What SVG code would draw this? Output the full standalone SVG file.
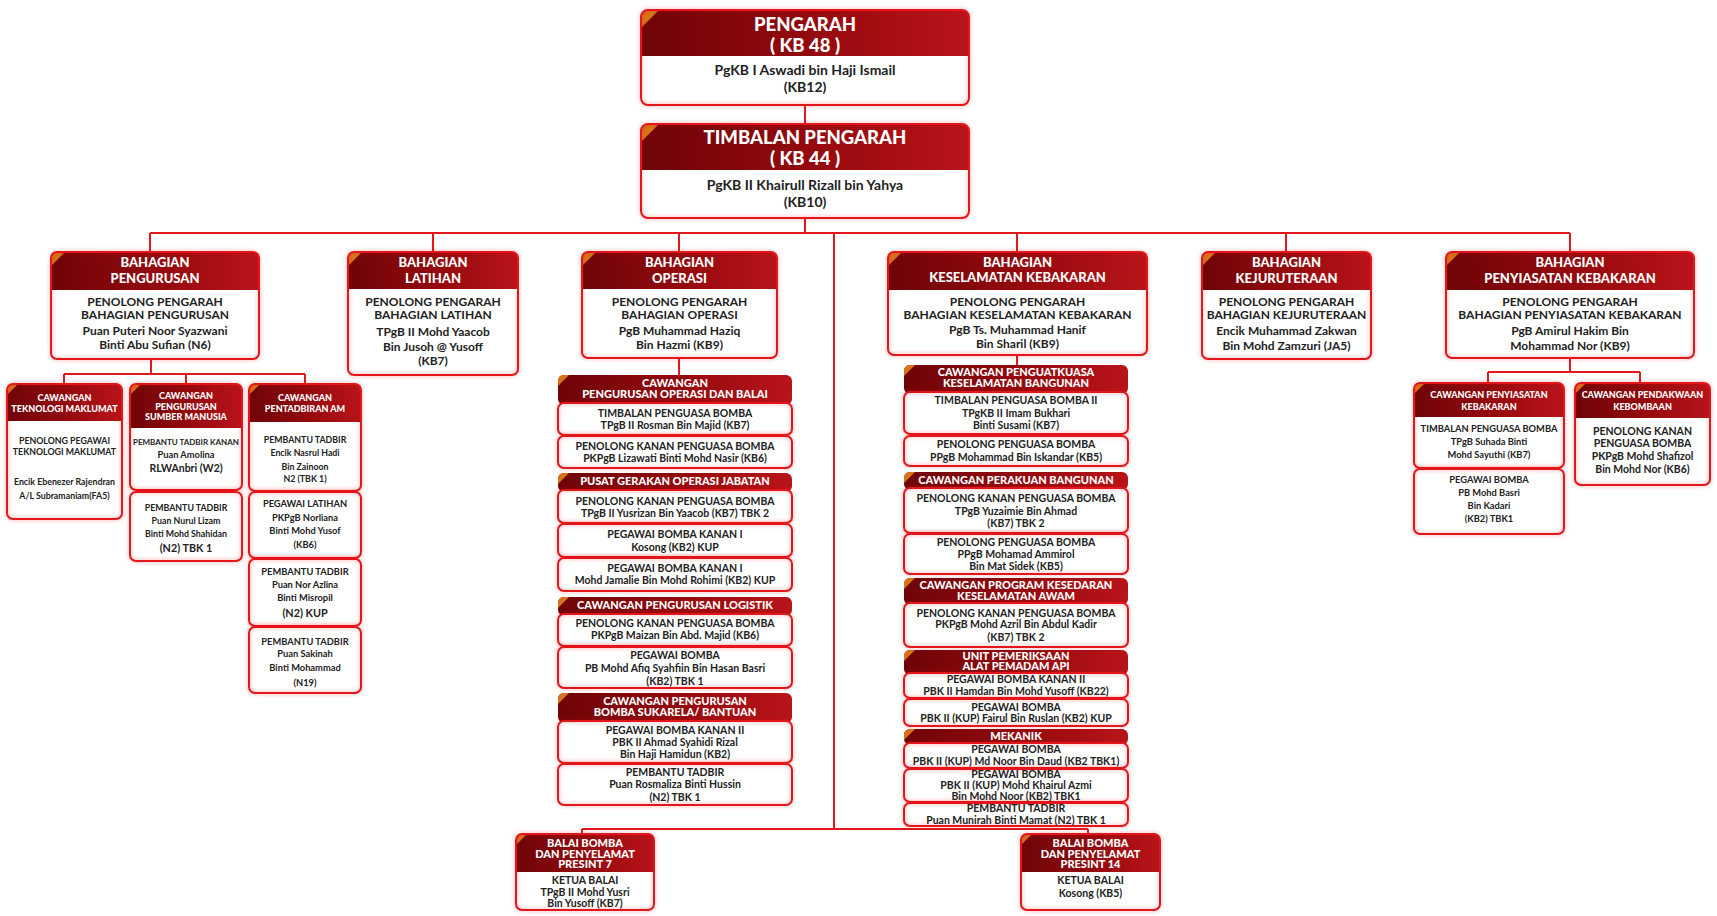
<svg xmlns="http://www.w3.org/2000/svg" width="1717" height="916" viewBox="0 0 1717 916">
<defs>
<linearGradient id="hg" x1="0" y1="0" x2="1" y2="0">
<stop offset="0" stop-color="#6e0407"/><stop offset="0.55" stop-color="#970a0e"/><stop offset="1" stop-color="#b8141a"/>
</linearGradient>
<filter id="gl" x="-10%" y="-10%" width="120%" height="120%">
<feDropShadow dx="0" dy="0" stdDeviation="2" flood-color="#e3181c" flood-opacity="0.4"/>
</filter>
<style>
.wf{fill:#fff}
.ol{fill:none;stroke:#e3181c;stroke-width:2;filter:url(#gl)}
.hdr{fill:url(#hg)}
.tri{fill:#d8731c}
.cn{fill:none;stroke:#e3181c;stroke-width:2}
text{font-family:Lato,"Noto Sans","Liberation Sans",sans-serif;text-anchor:middle;font-weight:700}
.h1{font-size:18.5px;font-weight:900;fill:#fff}
.b1{font-size:14px;fill:#222}
.h2{font-size:13px;font-weight:900;fill:#fff}
.b2{font-size:12px;fill:#222}
.h3{font-size:11px;font-weight:900;fill:#fff}
.b3{font-size:10.5px;fill:#222}
.h4{font-size:9px;font-weight:900;fill:#fff}
.b4{font-size:8.8px;fill:#222}
.b9{font-size:9.3px;fill:#222}
.b8{font-size:8px;fill:#222}
.bL{font-size:10.8px;fill:#222}
</style>
</defs>
<rect width="1717" height="916" fill="#fff"/>

<g id="connectors">
<path class="cn" d="M805,105V124M805,218V233M150,233H1570M150,233V252M433,233V252M679,233V252M1017,233V252M1286,233V252M1570,233V252M834,233V829M582,829H1088M582,829V834M1088,829V834"/>
<path class="cn" d="M151,359V374M64,374H305M64,374V384M186,374V384M305,374V384"/>
<path class="cn" d="M679,358V375M1017,355V365"/>
<path class="cn" d="M1570,358V372M1488,372H1640M1488,372V383M1640,372V383"/>
</g>

<g id="pengarah">
<rect class="wf" x="641" y="10" width="328" height="95" rx="7"/>
<path class="hdr" d="M641,56V17Q641,10 648,10H962Q969,10 969,17V56Z"/>
<path class="tri" d="M641,28V17Q641,10 648,10H659Z"/>
<rect class="ol" x="641" y="10" width="328" height="95" rx="7"/>
<text class="h1" x="805" y="31">PENGARAH</text>
<text class="h1" x="805" y="52">( KB 48 )</text>
<text class="b1" x="805" y="75">PgKB I Aswadi bin Haji Ismail</text>
<text class="b1" x="805" y="92">(KB12)</text>
</g>

<g id="timbalan">
<rect class="wf" x="641" y="124" width="328" height="94" rx="7"/>
<path class="hdr" d="M641,170V131Q641,124 648,124H962Q969,124 969,131V170Z"/>
<path class="tri" d="M641,142V131Q641,124 648,124H659Z"/>
<rect class="ol" x="641" y="124" width="328" height="94" rx="7"/>
<text class="h1" x="805" y="144">TIMBALAN PENGARAH</text>
<text class="h1" x="805" y="165">( KB 44 )</text>
<text class="b1" x="805" y="190">PgKB II Khairull Rizall bin Yahya</text>
<text class="b1" x="805" y="207">(KB10)</text>
</g>

<g id="pengurusan">
<rect class="wf" x="51" y="252" width="208" height="107" rx="6"/>
<path class="hdr" d="M51,290V258Q51,252 57,252H253Q259,252 259,258V290Z"/>
<path class="tri" d="M51,266V258Q51,252 57,252H65Z"/>
<rect class="ol" x="51" y="252" width="208" height="107" rx="6"/>
<text class="h2" x="155" y="266.5">BAHAGIAN</text>
<text class="h2" x="155" y="282.5">PENGURUSAN</text>
<text class="b2" x="155" y="306">PENOLONG PENGARAH</text>
<text class="b2" x="155" y="319">BAHAGIAN PENGURUSAN</text>
<text class="b2" x="155" y="335">Puan Puteri Noor Syazwani</text>
<text class="b2" x="155" y="349">Binti Abu Sufian (N6)</text>
</g>

<g id="cw-tm">
<rect class="wf" x="7" y="384" width="115" height="135" rx="6"/>
<path class="hdr" d="M7,421V390Q7,384 13,384H116Q122,384 122,390V421Z"/>
<path class="tri" d="M7,395V390Q7,384 13,384H18Z"/>
<rect class="ol" x="7" y="384" width="115" height="135" rx="6"/>
<text class="h4" x="64.5" y="400.5">CAWANGAN</text>
<text class="h4" x="64.5" y="411.5">TEKNOLOGI MAKLUMAT</text>
<text class="b4" x="64.5" y="444">PENOLONG PEGAWAI</text>
<text class="b4" x="64.5" y="455">TEKNOLOGI MAKLUMAT</text>
<text class="b4" x="64.5" y="485">Encik Ebenezer Rajendran</text>
<text class="b4" x="64.5" y="499">A/L Subramaniam(FA5)</text>
</g>

<g id="cw-psm">
<rect class="wf" x="130" y="384" width="112" height="106" rx="6"/>
<path class="hdr" d="M130,428V390Q130,384 136,384H236Q242,384 242,390V428Z"/>
<path class="tri" d="M130,395V390Q130,384 136,384H141Z"/>
<rect class="ol" x="130" y="384" width="112" height="106" rx="6"/>
<text class="h4" x="186" y="398.5">CAWANGAN</text>
<text class="h4" x="186" y="409.5">PENGURUSAN</text>
<text class="h4" x="186" y="419.5">SUMBER MANUSIA</text>
<text class="b8" x="186" y="445">PEMBANTU TADBIR KANAN</text>
<text class="b9" x="186" y="458">Puan Amolina</text>
<text class="b3" x="186" y="472">RLWAnbri (W2)</text>
</g>
<g id="psm-2">
<rect class="wf" x="130" y="492" width="112" height="69" rx="6"/>
<rect class="ol" x="130" y="492" width="112" height="69" rx="6"/>
<text class="b4" x="186" y="511">PEMBANTU TADBIR</text>
<text class="b4" x="186" y="524">Puan Nurul Lizam</text>
<text class="b4" x="186" y="537">Binti Mohd Shahidan</text>
<text class="bL" x="186" y="551.5">(N2) TBK 1</text>
</g>

<g id="cw-pam">
<rect class="wf" x="249" y="384" width="112" height="107" rx="6"/>
<path class="hdr" d="M249,422V390Q249,384 255,384H355Q361,384 361,390V422Z"/>
<path class="tri" d="M249,395V390Q249,384 255,384H260Z"/>
<rect class="ol" x="249" y="384" width="112" height="107" rx="6"/>
<text class="h4" x="305" y="400.5">CAWANGAN</text>
<text class="h4" x="305" y="411.5">PENTADBIRAN AM</text>
<text class="b4" x="305" y="443">PEMBANTU TADBIR</text>
<text class="b4" x="305" y="456">Encik Nasrul Hadi</text>
<text class="b4" x="305" y="470">Bin Zainoon</text>
<text class="b4" x="305" y="482">N2 (TBK 1)</text>
</g>
<g id="pam-2">
<rect class="wf" x="249" y="492" width="112" height="66" rx="6"/>
<rect class="ol" x="249" y="492" width="112" height="66" rx="6"/>
<text class="b9" x="305" y="507">PEGAWAI LATIHAN</text>
<text class="b9" x="305" y="521">PKPgB Norliana</text>
<text class="b9" x="305" y="534">Binti Mohd Yusof</text>
<text class="b9" x="305" y="547.5">(KB6)</text>
</g>
<g id="pam-3">
<rect class="wf" x="249" y="559" width="112" height="67" rx="6"/>
<rect class="ol" x="249" y="559" width="112" height="67" rx="6"/>
<text class="b9" x="305" y="574.5">PEMBANTU TADBIR</text>
<text class="b9" x="305" y="588">Puan Nor Azlina</text>
<text class="b9" x="305" y="601">Binti Misropil</text>
<text class="bL" x="305" y="616.5">(N2) KUP</text>
</g>
<g id="pam-4">
<rect class="wf" x="249" y="627" width="112" height="66" rx="6"/>
<rect class="ol" x="249" y="627" width="112" height="66" rx="6"/>
<text class="b9" x="305" y="644.5">PEMBANTU TADBIR</text>
<text class="b9" x="305" y="657">Puan Sakinah</text>
<text class="b9" x="305" y="671">Binti Mohammad</text>
<text class="b9" x="305" y="685.5">(N19)</text>
</g>

<g id="latihan">
<rect class="wf" x="348" y="252" width="170" height="123" rx="6"/>
<path class="hdr" d="M348,289V258Q348,252 354,252H512Q518,252 518,258V289Z"/>
<path class="tri" d="M348,266V258Q348,252 354,252H362Z"/>
<rect class="ol" x="348" y="252" width="170" height="123" rx="6"/>
<text class="h2" x="433" y="266.5">BAHAGIAN</text>
<text class="h2" x="433" y="282.5">LATIHAN</text>
<text class="b2" x="433" y="306">PENOLONG PENGARAH</text>
<text class="b2" x="433" y="319">BAHAGIAN LATIHAN</text>
<text class="b2" x="433" y="336">TPgB II Mohd Yaacob</text>
<text class="b2" x="433" y="351">Bin Jusoh @ Yusoff</text>
<text class="b2" x="433" y="365">(KB7)</text>
</g>

<g id="operasi">
<rect class="wf" x="582" y="252" width="195" height="106" rx="6"/>
<path class="hdr" d="M582,289V258Q582,252 588,252H771Q777,252 777,258V289Z"/>
<path class="tri" d="M582,266V258Q582,252 588,252H596Z"/>
<rect class="ol" x="582" y="252" width="195" height="106" rx="6"/>
<text class="h2" x="679.5" y="266.5">BAHAGIAN</text>
<text class="h2" x="679.5" y="282.5">OPERASI</text>
<text class="b2" x="679.5" y="306">PENOLONG PENGARAH</text>
<text class="b2" x="679.5" y="319">BAHAGIAN OPERASI</text>
<text class="b2" x="679.5" y="335">PgB Muhammad Haziq</text>
<text class="b2" x="679.5" y="349">Bin Hazmi (KB9)</text>
</g>

<g id="op-balai">
<rect class="hdr" x="558" y="375" width="234" height="30" rx="6"/>
<path class="tri" d="M558,386V381Q558,375 564,375H569Z"/>
<text class="h3" x="675" y="387">CAWANGAN</text>
<text class="h3" x="675" y="398">PENGURUSAN OPERASI DAN BALAI</text>
<rect class="wf" x="558" y="403" width="234" height="32" rx="6"/>
<rect class="ol" x="558" y="403" width="234" height="32" rx="6"/>
<text class="b3" x="675" y="416.5">TIMBALAN PENGUASA BOMBA</text>
<text class="b3" x="675" y="428.5">TPgB II Rosman Bin Majid (KB7)</text>
<rect class="wf" x="558" y="436" width="234" height="32" rx="6"/>
<rect class="ol" x="558" y="436" width="234" height="32" rx="6"/>
<text class="b3" x="675" y="449.5">PENOLONG KANAN PENGUASA BOMBA</text>
<text class="b3" x="675" y="461.5">PKPgB Lizawati Binti Mohd Nasir (KB6)</text>
</g>

<g id="op-pgoj">
<rect class="hdr" x="558" y="473" width="234" height="19" rx="6"/>
<path class="tri" d="M558,484V479Q558,473 564,473H569Z"/>
<text class="h3" x="675" y="485">PUSAT GERAKAN OPERASI JABATAN</text>
<rect class="wf" x="558" y="490" width="234" height="33" rx="6"/>
<rect class="ol" x="558" y="490" width="234" height="33" rx="6"/>
<text class="b3" x="675" y="504.5">PENOLONG KANAN PENGUASA BOMBA</text>
<text class="b3" x="675" y="516.5">TPgB II Yusrizan Bin Yaacob (KB7) TBK 2</text>
<rect class="wf" x="558" y="524" width="234" height="33" rx="6"/>
<rect class="ol" x="558" y="524" width="234" height="33" rx="6"/>
<text class="b3" x="675" y="537.5">PEGAWAI BOMBA KANAN I</text>
<text class="b3" x="675" y="550.5">Kosong (KB2) KUP</text>
<rect class="wf" x="558" y="558" width="234" height="33" rx="6"/>
<rect class="ol" x="558" y="558" width="234" height="33" rx="6"/>
<text class="b3" x="675" y="571.5">PEGAWAI BOMBA KANAN I</text>
<text class="b3" x="675" y="583.5">Mohd Jamalie Bin Mohd Rohimi (KB2) KUP</text>
</g>

<g id="op-logistik">
<rect class="hdr" x="558" y="597" width="234" height="19" rx="6"/>
<path class="tri" d="M558,608V603Q558,597 564,597H569Z"/>
<text class="h3" x="675" y="609">CAWANGAN PENGURUSAN LOGISTIK</text>
<rect class="wf" x="558" y="614" width="234" height="32" rx="6"/>
<rect class="ol" x="558" y="614" width="234" height="32" rx="6"/>
<text class="b3" x="675" y="626.5">PENOLONG KANAN PENGUASA BOMBA</text>
<text class="b3" x="675" y="638.5">PKPgB Maizan Bin Abd. Majid (KB6)</text>
<rect class="wf" x="558" y="647" width="234" height="41" rx="6"/>
<rect class="ol" x="558" y="647" width="234" height="41" rx="6"/>
<text class="b3" x="675" y="658.5">PEGAWAI BOMBA</text>
<text class="b3" x="675" y="671.5">PB Mohd Afiq Syahfiin Bin Hasan Basri</text>
<text class="b3" x="675" y="684.5">(KB2) TBK 1</text>
</g>

<g id="op-sukarela">
<rect class="hdr" x="558" y="693" width="234" height="30" rx="6"/>
<path class="tri" d="M558,704V699Q558,693 564,693H569Z"/>
<text class="h3" x="675" y="705">CAWANGAN PENGURUSAN</text>
<text class="h3" x="675" y="716">BOMBA SUKARELA/ BANTUAN</text>
<rect class="wf" x="558" y="721" width="234" height="42" rx="6"/>
<rect class="ol" x="558" y="721" width="234" height="42" rx="6"/>
<text class="b3" x="675" y="733.5">PEGAWAI BOMBA KANAN II</text>
<text class="b3" x="675" y="745.5">PBK II Ahmad Syahidi Rizal</text>
<text class="b3" x="675" y="757.5">Bin Haji Hamidun (KB2)</text>
<rect class="wf" x="558" y="764" width="234" height="41" rx="6"/>
<rect class="ol" x="558" y="764" width="234" height="41" rx="6"/>
<text class="b3" x="675" y="775.5">PEMBANTU TADBIR</text>
<text class="b3" x="675" y="787.5">Puan Rosmaliza Binti Hussin</text>
<text class="b3" x="675" y="800.5">(N2) TBK 1</text>
</g>

<g id="keselamatan">
<rect class="wf" x="888" y="252" width="259" height="103" rx="6"/>
<path class="hdr" d="M888,290V258Q888,252 894,252H1141Q1147,252 1147,258V290Z"/>
<path class="tri" d="M888,266V258Q888,252 894,252H902Z"/>
<rect class="ol" x="888" y="252" width="259" height="103" rx="6"/>
<text class="h2" x="1017.5" y="266.5">BAHAGIAN</text>
<text class="h2" x="1017.5" y="281.5">KESELAMATAN KEBAKARAN</text>
<text class="b2" x="1017.5" y="306">PENOLONG PENGARAH</text>
<text class="b2" x="1017.5" y="319">BAHAGIAN KESELAMATAN KEBAKARAN</text>
<text class="b2" x="1017.5" y="334">PgB Ts. Muhammad Hanif</text>
<text class="b2" x="1017.5" y="348">Bin Sharil (KB9)</text>
</g>

<g id="kes-penguatkuasa">
<rect class="hdr" x="904" y="365" width="224" height="29" rx="6"/>
<path class="tri" d="M904,376V371Q904,365 910,365H915Z"/>
<text class="h3" x="1016" y="376">CAWANGAN PENGUATKUASA</text>
<text class="h3" x="1016" y="387">KESELAMATAN BANGUNAN</text>
<rect class="wf" x="904" y="392" width="224" height="42" rx="6"/>
<rect class="ol" x="904" y="392" width="224" height="42" rx="6"/>
<text class="b3" x="1016" y="403.5">TIMBALAN PENGUASA BOMBA II</text>
<text class="b3" x="1016" y="416.5">TPgKB II Imam Bukhari</text>
<text class="b3" x="1016" y="428.5">Binti Susami (KB7)</text>
<rect class="wf" x="904" y="436" width="224" height="30" rx="6"/>
<rect class="ol" x="904" y="436" width="224" height="30" rx="6"/>
<text class="b3" x="1016" y="447.5">PENOLONG PENGUASA BOMBA</text>
<text class="b3" x="1016" y="460.5">PPgB Mohammad Bin Iskandar (KB5)</text>
</g>

<g id="kes-perakuan">
<rect class="hdr" x="904" y="472" width="224" height="18" rx="6"/>
<path class="tri" d="M904,483V478Q904,472 910,472H915Z"/>
<text class="h3" x="1016" y="483.5">CAWANGAN PERAKUAN BANGUNAN</text>
<rect class="wf" x="904" y="488" width="224" height="45" rx="6"/>
<rect class="ol" x="904" y="488" width="224" height="45" rx="6"/>
<text class="b3" x="1016" y="501.5">PENOLONG KANAN PENGUASA BOMBA</text>
<text class="b3" x="1016" y="514.5">TPgB Yuzaimie Bin Ahmad</text>
<text class="b3" x="1016" y="526.5">(KB7) TBK 2</text>
<rect class="wf" x="904" y="534" width="224" height="40" rx="6"/>
<rect class="ol" x="904" y="534" width="224" height="40" rx="6"/>
<text class="b3" x="1016" y="545.5">PENOLONG PENGUASA BOMBA</text>
<text class="b3" x="1016" y="557.5">PPgB Mohamad Ammirol</text>
<text class="b3" x="1016" y="569.5">Bin Mat Sidek (KB5)</text>
</g>

<g id="kes-kesedaran">
<rect class="hdr" x="904" y="578" width="224" height="27" rx="6"/>
<path class="tri" d="M904,589V584Q904,578 910,578H915Z"/>
<text class="h3" x="1016" y="589">CAWANGAN PROGRAM KESEDARAN</text>
<text class="h3" x="1016" y="600">KESELAMATAN AWAM</text>
<rect class="wf" x="904" y="603" width="224" height="44" rx="6"/>
<rect class="ol" x="904" y="603" width="224" height="44" rx="6"/>
<text class="b3" x="1016" y="616.5">PENOLONG KANAN PENGUASA BOMBA</text>
<text class="b3" x="1016" y="627.5">PKPgB Mohd Azril Bin Abdul Kadir</text>
<text class="b3" x="1016" y="640.5">(KB7) TBK 2</text>
</g>

<g id="kes-pemadam">
<rect class="hdr" x="904" y="650" width="224" height="25" rx="6"/>
<path class="tri" d="M904,661V656Q904,650 910,650H915Z"/>
<text class="h3" x="1016" y="660">UNIT PEMERIKSAAN</text>
<text class="h3" x="1016" y="670">ALAT PEMADAM API</text>
<rect class="wf" x="904" y="673" width="224" height="25" rx="6"/>
<rect class="ol" x="904" y="673" width="224" height="25" rx="6"/>
<text class="b3" x="1016" y="682.5">PEGAWAI BOMBA KANAN II</text>
<text class="b3" x="1016" y="694.5">PBK II Hamdan Bin Mohd Yusoff (KB22)</text>
<rect class="wf" x="904" y="699" width="224" height="27" rx="6"/>
<rect class="ol" x="904" y="699" width="224" height="27" rx="6"/>
<text class="b3" x="1016" y="710.5">PEGAWAI BOMBA</text>
<text class="b3" x="1016" y="721.5">PBK II (KUP) Fairul Bin Ruslan (KB2) KUP</text>
</g>

<g id="kes-mekanik">
<rect class="hdr" x="904" y="729" width="224" height="16" rx="6"/>
<path class="tri" d="M904,740V735Q904,729 910,729H915Z"/>
<text class="h3" x="1016" y="740">MEKANIK</text>
<rect class="wf" x="904" y="743" width="224" height="25" rx="6"/>
<rect class="ol" x="904" y="743" width="224" height="25" rx="6"/>
<text class="b3" x="1016" y="752.5">PEGAWAI BOMBA</text>
<text class="b3" x="1016" y="764.5">PBK II (KUP) Md Noor Bin Daud (KB2 TBK1)</text>
<rect class="wf" x="904" y="769" width="224" height="33" rx="6"/>
<rect class="ol" x="904" y="769" width="224" height="33" rx="6"/>
<text class="b3" x="1016" y="777.5">PEGAWAI BOMBA</text>
<text class="b3" x="1016" y="788.5">PBK II (KUP) Mohd Khairul Azmi</text>
<text class="b3" x="1016" y="799.5">Bin Mohd Noor (KB2) TBK1</text>
<rect class="wf" x="904" y="803" width="224" height="23" rx="6"/>
<rect class="ol" x="904" y="803" width="224" height="23" rx="6"/>
<text class="b3" x="1016" y="811.5">PEMBANTU TADBIR</text>
<text class="b3" x="1016" y="823.5">Puan Munirah Binti Mamat (N2) TBK 1</text>
</g>

<g id="kejuruteraan">
<rect class="wf" x="1202" y="252" width="169" height="107" rx="6"/>
<path class="hdr" d="M1202,290V258Q1202,252 1208,252H1365Q1371,252 1371,258V290Z"/>
<path class="tri" d="M1202,266V258Q1202,252 1208,252H1216Z"/>
<rect class="ol" x="1202" y="252" width="169" height="107" rx="6"/>
<text class="h2" x="1286.5" y="266.5">BAHAGIAN</text>
<text class="h2" x="1286.5" y="282.5">KEJURUTERAAN</text>
<text class="b2" x="1286.5" y="306">PENOLONG PENGARAH</text>
<text class="b2" x="1286.5" y="319">BAHAGIAN KEJURUTERAAN</text>
<text class="b2" x="1286.5" y="335">Encik Muhammad Zakwan</text>
<text class="b2" x="1286.5" y="350">Bin Mohd Zamzuri (JA5)</text>
</g>

<g id="penyiasatan">
<rect class="wf" x="1446" y="252" width="248" height="106" rx="6"/>
<path class="hdr" d="M1446,290V258Q1446,252 1452,252H1688Q1694,252 1694,258V290Z"/>
<path class="tri" d="M1446,266V258Q1446,252 1452,252H1460Z"/>
<rect class="ol" x="1446" y="252" width="248" height="106" rx="6"/>
<text class="h2" x="1570" y="266.5">BAHAGIAN</text>
<text class="h2" x="1570" y="282.5">PENYIASATAN KEBAKARAN</text>
<text class="b2" x="1570" y="306">PENOLONG PENGARAH</text>
<text class="b2" x="1570" y="319">BAHAGIAN PENYIASATAN KEBAKARAN</text>
<text class="b2" x="1570" y="335">PgB Amirul Hakim Bin</text>
<text class="b2" x="1570" y="350">Mohammad Nor (KB9)</text>
</g>

<g id="cw-penyiasatan">
<rect class="wf" x="1414" y="383" width="150" height="85" rx="6"/>
<path class="hdr" d="M1414,417V389Q1414,383 1420,383H1558Q1564,383 1564,389V417Z"/>
<path class="tri" d="M1414,394V389Q1414,383 1420,383H1425Z"/>
<rect class="ol" x="1414" y="383" width="150" height="85" rx="6"/>
<text class="h4" x="1489" y="397.5">CAWANGAN PENYIASATAN</text>
<text class="h4" x="1489" y="409.5">KEBAKARAN</text>
<text class="b9" x="1489" y="432">TIMBALAN PENGUASA BOMBA</text>
<text class="b9" x="1489" y="445">TPgB Suhada Binti</text>
<text class="b9" x="1489" y="458">Mohd Sayuthi (KB7)</text>
</g>
<g id="penyiasatan-2">
<rect class="wf" x="1414" y="469" width="150" height="65" rx="6"/>
<rect class="ol" x="1414" y="469" width="150" height="65" rx="6"/>
<text class="b9" x="1489" y="483">PEGAWAI BOMBA</text>
<text class="b9" x="1489" y="496">PB Mohd Basri</text>
<text class="b9" x="1489" y="509">Bin Kadari</text>
<text class="b9" x="1489" y="522">(KB2) TBK1</text>
</g>

<g id="cw-pendakwaan">
<rect class="wf" x="1575" y="383" width="135" height="102" rx="6"/>
<path class="hdr" d="M1575,418V389Q1575,383 1581,383H1704Q1710,383 1710,389V418Z"/>
<path class="tri" d="M1575,394V389Q1575,383 1581,383H1586Z"/>
<rect class="ol" x="1575" y="383" width="135" height="102" rx="6"/>
<text class="h4" x="1642.5" y="397.5">CAWANGAN PENDAKWAAN</text>
<text class="h4" x="1642.5" y="409.5">KEBOMBAAN</text>
<text class="b3" x="1642.5" y="434.5">PENOLONG KANAN</text>
<text class="b3" x="1642.5" y="446.5">PENGUASA BOMBA</text>
<text class="b3" x="1642.5" y="459.5">PKPgB Mohd Shafizol</text>
<text class="b3" x="1642.5" y="472.5">Bin Mohd Nor (KB6)</text>
</g>

<g id="balai-p7">
<rect class="wf" x="516" y="834" width="138" height="76" rx="6"/>
<path class="hdr" d="M516,872V840Q516,834 522,834H648Q654,834 654,840V872Z"/>
<path class="tri" d="M516,845V840Q516,834 522,834H527Z"/>
<rect class="ol" x="516" y="834" width="138" height="76" rx="6"/>
<text class="h3" x="585" y="847">BALAI BOMBA</text>
<text class="h3" x="585" y="857.5">DAN PENYELAMAT</text>
<text class="h3" x="585" y="868">PRESINT 7</text>
<text class="b3" x="585" y="883.5">KETUA BALAI</text>
<text class="b3" x="585" y="895.5">TPgB II Mohd Yusri</text>
<text class="b3" x="585" y="906.5">Bin Yusoff (KB7)</text>
</g>

<g id="balai-p14">
<rect class="wf" x="1021" y="834" width="139" height="76" rx="6"/>
<path class="hdr" d="M1021,872V840Q1021,834 1027,834H1154Q1160,834 1160,840V872Z"/>
<path class="tri" d="M1021,845V840Q1021,834 1027,834H1032Z"/>
<rect class="ol" x="1021" y="834" width="139" height="76" rx="6"/>
<text class="h3" x="1090.5" y="847">BALAI BOMBA</text>
<text class="h3" x="1090.5" y="857.5">DAN PENYELAMAT</text>
<text class="h3" x="1090.5" y="868">PRESINT 14</text>
<text class="b3" x="1090.5" y="883.5">KETUA BALAI</text>
<text class="b3" x="1090.5" y="896.5">Kosong (KB5)</text>
</g>
</svg>
